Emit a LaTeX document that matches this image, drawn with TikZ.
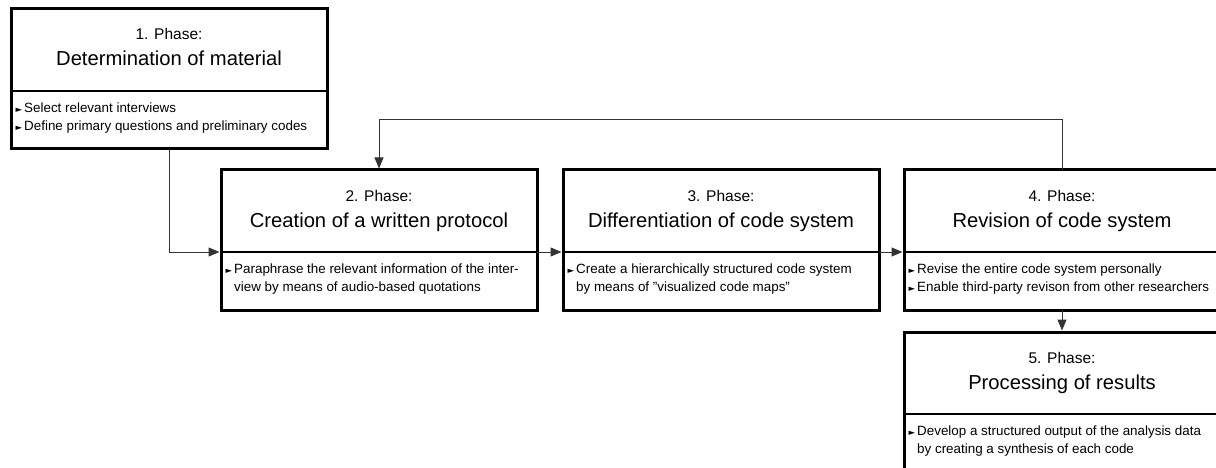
\documentclass[tikz,border=0pt]{standalone}
\usepackage{fontspec}
\setmainfont{Liberation Sans}
\newfontfamily\symfont{DejaVu Sans}
\usetikzlibrary{arrows.meta,calc}

% hanging bullet in front of an item line
\newcommand{\itm}{\makebox[0pt][r]{{\symfont\fontsize{8.5}{8}\selectfont ►}\hspace{2pt}}}

\tikzset{
  phasebox/.style={draw, line width=3pt, minimum width=316pt, minimum height=140pt,
    anchor=north west, inner sep=0pt, outer sep=0pt},
  divider/.style={line width=1.3pt},
  conn/.style={draw=black!80, line width=1pt, -{Triangle[length=11pt,width=9pt]}, shorten >=1.5pt},
  phaselabel/.style={font=\fontsize{15.5}{18}\selectfont, anchor=base, inner sep=0pt},
  titlelabel/.style={font=\fontsize{20.2}{24}\selectfont, anchor=base, inner sep=0pt},
  itemtext/.style={font=\fontsize{13.4}{17.5}\selectfont, anchor=north west, align=left, inner sep=0pt},
}

% #1 name, #2 x, #3 y, #4 number, #5 title, #6 items
\newcommand{\phase}[6]{%
  \node[phasebox] (#1) at (#2,#3) {};
  \coordinate (#1-dl) at ($(#1.north west)+(0,82)$);
  \coordinate (#1-dr) at ($(#1.north east)+(0,82)$);
  \draw[divider] (#1-dl) -- (#1-dr);
  \node[phaselabel] (#1-num) at ($(#1.north)+(0,31)$) {#4. Phase:};
  \node[titlelabel] (#1-title) at ($(#1.north)+(0,57)$) {#5};
  \node[itemtext] (#1-items) at ($(#1.north west)+(13,94)$) {#6};
}

\begin{document}
\begin{tikzpicture}[x=1pt, y=-1pt]
  \useasboundingbox (0,0) rectangle (1216,468);
  \clip (0,0) rectangle (1216,468);

  \phase{p1}{11}{9}{1}{Determination of material}%
    {\itm Select relevant interviews\\ \itm Define primary questions and preliminary codes}
  \phase{p2}{221}{170}{2}{Creation of a written protocol}%
    {\itm Paraphrase the relevant information of the inter-\\ view by means of audio-based quotations}
  \phase{p3}{563}{170}{3}{Differentiation of code system}%
    {\itm Create a hierarchically structured code system\\ by means of "visualized code maps"}
  \phase{p4}{904}{170}{4}{Revision of code system}%
    {\itm Revise the entire code system personally\\ \itm Enable third-party revison from other researchers}
  \phase{p5}{904}{332}{5}{Processing of results}%
    {\itm Develop a structured output of the analysis data\\ by creating a synthesis of each code}

  % flow between the phases
  \draw[conn] (p1.south) |- (p2-dl);
  \draw[conn] (p2-dr) -- (p3-dl);
  \draw[conn] (p3-dr) -- (p4-dl);
  \draw[conn] (p4.south) -- (p5.north);
  % feedback loop from revision back to the protocol
  \draw[conn] (p4.north) -- ++(0,-50) -| (p2.north);
\end{tikzpicture}
\end{document}
